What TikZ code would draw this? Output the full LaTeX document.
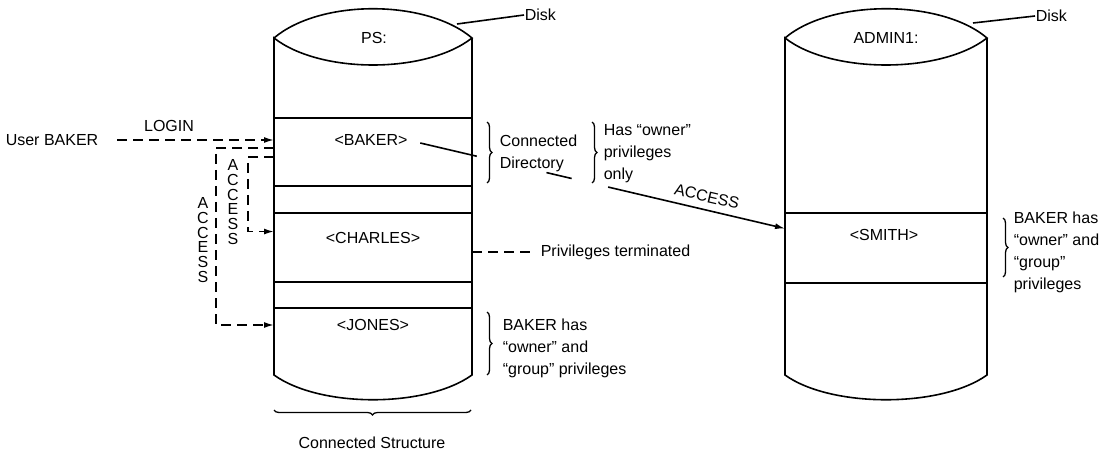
\documentclass[tikz,border=0pt]{standalone}
\usepackage{fontspec}
\setmainfont{Liberation Sans}
\usetikzlibrary{arrows.meta,positioning,calc,decorations.pathreplacing}

\tikzset{
  lbl/.style={inner sep=0pt,font=\fontsize{16}{22}\selectfont},
  note/.style={lbl,align=left,anchor=west},
  stack/.style={lbl,align=center,font=\fontsize{16}{14.7}\selectfont},
  dashes/.style={dash pattern=on 10pt off 6pt},
  dasharrow/.style={dashes,-{Latex[length=10pt,width=6pt]}},
  solidarrow/.style={-{Latex[length=10pt,width=6pt]}},
  grp/.style={decorate,decoration={brace,amplitude=5pt},line width=1.3pt},
}

\begin{document}
\begin{tikzpicture}[x=1pt,y=-1pt,line width=1.6pt]
  \useasboundingbox (0,0) rectangle (1115,454);
  % the two disks
  \foreach \l/\r in {274/472, 785/987} {
    \draw (\l,38) .. controls +(46,-39) and +(-46,-39) .. (\r,38)
          .. controls +(-46,36) and +(46,36) .. (\l,38)
          -- (\l,375) .. controls +(46,33) and +(-46,33) .. (\r,375) -- (\r,38);
  }
  % directory bands
  \foreach \y in {118,186,213,282,308} \draw (274,\y) -- (472,\y);
  \foreach \y in {213,283} \draw (785,\y) -- (987,\y);
  \coordinate (psL) at (274,0);
  \coordinate (psR) at (472,0);
  \coordinate (admL) at (785,0);

  \node[lbl] (ps) at (374,38) {PS:};
  \node[lbl] (admin) at (886,38) {ADMIN1:};
  \node[lbl] (bakerdir) at (371,140) {<BAKER>};
  \node[lbl] (charles) at (373,238) {<CHARLES>};
  \node[lbl] (jones) at (373,325) {<JONES>};
  \node[lbl] (smith) at (884,235) {<SMITH>};

  % disk labels
  \node[note] (disk1) at (524,15) {Disk};
  \node[note] (disk2) at (1035,16) {Disk};
  \coordinate (rim1) at (457,24);
  \coordinate (rim2) at (973,23);
  \draw (rim1) -- (disk1.west);
  \draw (rim2) -- (disk2.west);

  % login
  \node[note] (user) at (5,140) {User BAKER};
  \draw[dasharrow,shorten <=18pt] (user.east) -- (user.east -| psL)
    node[lbl,pos=0.4,above=8pt] (login) {LOGIN};

  % access inside PS:
  \draw[dasharrow] (274,148) -- (216,148) |- (jones -| psL);
  \draw[dasharrow] (274,157) -- (248,157) |- (charles.north -| psL);
  \node[stack] (acc1) at (233,202) {A\\C\\C\\E\\S\\S};
  \node[stack] (acc2) at (203,240) {A\\C\\C\\E\\S\\S};

  % braces and notes
  \draw[grp] (487,122) -- (487,183);
  \node[note] (conn) at (499,153) {Connected\\Directory};
  \draw[grp] (592,122) -- (592,183);
  \node[note] (owner) at (603,154) {Has ``owner''\\privileges\\only};
  \draw[grp] (487,312) -- (487,375);
  \node[note] (jonespriv) at (502,348) {BAKER has\\``owner'' and\\``group'' privileges};
  \draw[grp] (1003,218) -- (1003,277);
  \node[note] (smithpriv) at (1013,252) {BAKER has\\``owner'' and\\``group''\\privileges};
  \draw[grp] (471,410) -- (274,410);
  \node[lbl] (struct) at (372,443) {Connected Structure};

  % privileges terminated
  \node[note] (term) at (540,252) {Privileges terminated};
  \draw[dashes] (term.west -| psR) -- ([xshift=-8pt]term.west);

  % access to ADMIN1:
  \coordinate (acc0) at ($(bakerdir.east)+(12,3)$);
  \coordinate (smithin) at (smith.north -| admL);
  \draw (acc0) -- ($(acc0)!0.155!(smithin)$);
  \draw ($(acc0)!0.346!(smithin)$) -- ($(acc0)!0.415!(smithin)$);
  \draw[solidarrow] ($(acc0)!0.515!(smithin)$) -- (smithin)
    node[lbl,pos=0.55,rotate=-13,above=7pt] (accx) {ACCESS};
\end{tikzpicture}
\end{document}
